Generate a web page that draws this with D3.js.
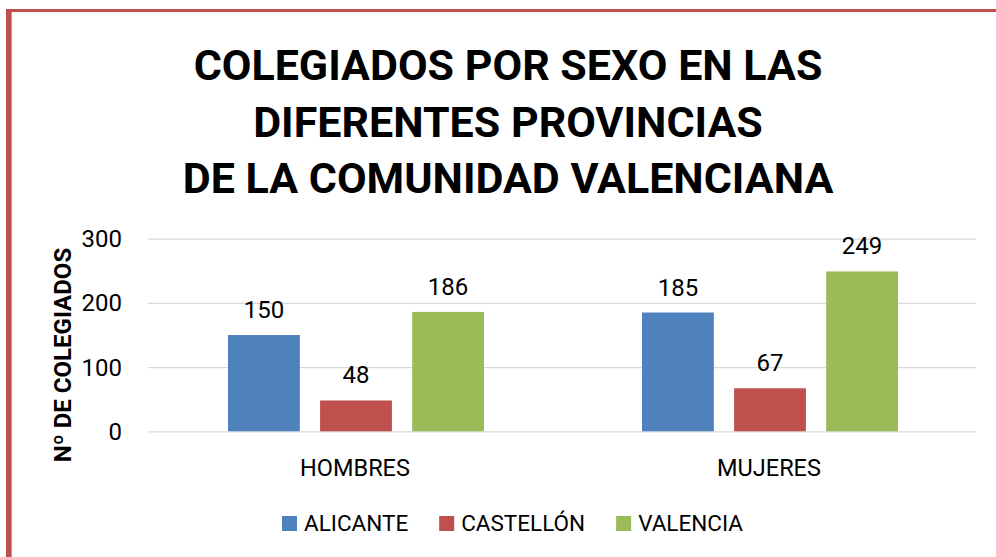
<!DOCTYPE html>
<html>
<head>
<meta charset="utf-8">
<script src="https://cdn.jsdelivr.net/npm/d3@7"></script>
<style>
  body { margin: 0; background: #fff; }
  svg { display: block; font-family: Roboto, "Open Sans", sans-serif; }
  .grid line { stroke: #d9d9d9; stroke-width: 1.3; }
  .grid path { display: none; }
</style>
</head>
<body>
<div id="chart"></div>
<script>
// data
const categories = ['HOMBRES', 'MUJERES'];
const series = ['ALICANTE', 'CASTELLÓN', 'VALENCIA'];
const alicante = [150, 185];
const castellon = [48, 67];
const valencia = [186, 249];
const yTicks = [0, 100, 200, 300];
const titleLines = ['COLEGIADOS POR SEXO EN LAS', 'DIFERENTES PROVINCIAS', 'DE LA COMUNIDAD VALENCIANA'];
const yLabel = 'Nº DE COLEGIADOS';

const colors = ['#4f81bd', '#c0504d', '#9bbb59'];
const values = [alicante, castellon, valencia];

const W = 996, H = 557;
const svg = d3.select('#chart').append('svg').attr('width', W).attr('height', H);

// border (only left and top visible in the crop)
svg.append('rect').attr('x', 6).attr('y', 9).attr('width', 6).attr('height', H - 9).attr('fill', '#c0504d');
svg.append('rect').attr('x', 6).attr('y', 9).attr('width', W - 6).attr('height', 3).attr('fill', '#c0504d');
svg.append('rect').attr('x', 11).attr('y', 12).attr('width', 1).attr('height', H - 12).attr('fill', '#e08a88');

// title
svg.append('text')
  .attr('text-anchor', 'middle')
  .attr('font-weight', 'bold')
  .attr('font-size', 43)
  .attr('fill', '#000')
  .selectAll('tspan')
  .data(titleLines)
  .enter().append('tspan')
  .attr('x', 508)
  .attr('y', (d, i) => 80 + i * 56.5)
  .text(d => d);

// scales
const m = { left: 148, right: 976, top: 238.7, bottom: 431.3 };

const x0 = d3.scaleBand()
  .domain(categories)
  .range([m.left, m.right]);

const x1 = d3.scaleBand()
  .domain(series)
  .range([80, 336])
  .paddingInner(0.22);

const y = d3.scaleLinear()
  .domain([0, 300])
  .range([m.bottom, m.top]);

// gridlines
svg.append('g')
  .attr('class', 'grid')
  .attr('transform', `translate(${m.left},0)`)
  .call(d3.axisRight(y).tickValues(yTicks).tickSize(m.right - m.left).tickFormat(''));

// y tick labels
svg.append('g')
  .selectAll('text')
  .data(yTicks)
  .enter().append('text')
  .attr('x', 122)
  .attr('y', d => y(d))
  .attr('dy', '0.35em')
  .attr('text-anchor', 'end')
  .attr('font-size', 24)
  .attr('fill', '#000')
  .text(d => d);

// y axis title
svg.append('text')
  .attr('transform', `translate(71,${355}) rotate(-90)`)
  .attr('text-anchor', 'middle')
  .attr('font-weight', 'bold')
  .attr('font-size', 24)
  .attr('fill', '#000')
  .text(yLabel);

// bars
const groups = svg.append('g')
  .selectAll('g')
  .data(categories)
  .enter().append('g')
  .attr('transform', d => `translate(${x0(d)},0)`);

groups.selectAll('rect')
  .data((c, ci) => series.map((s, si) => ({ s, si, v: values[si][ci] })))
  .enter().append('rect')
  .attr('x', d => x1(d.s))
  .attr('y', d => y(d.v))
  .attr('width', x1.bandwidth())
  .attr('height', d => y(0) - y(d.v))
  .attr('fill', d => colors[d.si]);

groups.selectAll('text.val')
  .data((c, ci) => series.map((s, si) => ({ s, si, v: values[si][ci] })))
  .enter().append('text')
  .attr('class', 'val')
  .attr('x', d => x1(d.s) + x1.bandwidth() / 2)
  .attr('y', d => y(d.v) - 17)
  .attr('text-anchor', 'middle')
  .attr('font-size', 24)
  .attr('fill', '#000')
  .text(d => d.v);

// category labels
svg.append('g')
  .selectAll('text')
  .data(categories)
  .enter().append('text')
  .attr('x', d => x0(d) + x0.bandwidth() / 2)
  .attr('y', 476)
  .attr('text-anchor', 'middle')
  .attr('font-size', 23.5)
  .attr('fill', '#000')
  .text(d => d);

// legend
const legend = svg.append('g');
let lx = 282;
series.forEach((s, i) => {
  legend.append('rect')
    .attr('x', lx).attr('y', 516)
    .attr('width', 15).attr('height', 15)
    .attr('fill', colors[i]);
  const t = legend.append('text')
    .attr('x', lx + 22)
    .attr('y', 531)
    .attr('font-size', 22.5)
    .attr('fill', '#000')
    .text(s);
  lx += 22 + t.node().getComputedTextLength() + 31;
});
</script>
</body>
</html>
